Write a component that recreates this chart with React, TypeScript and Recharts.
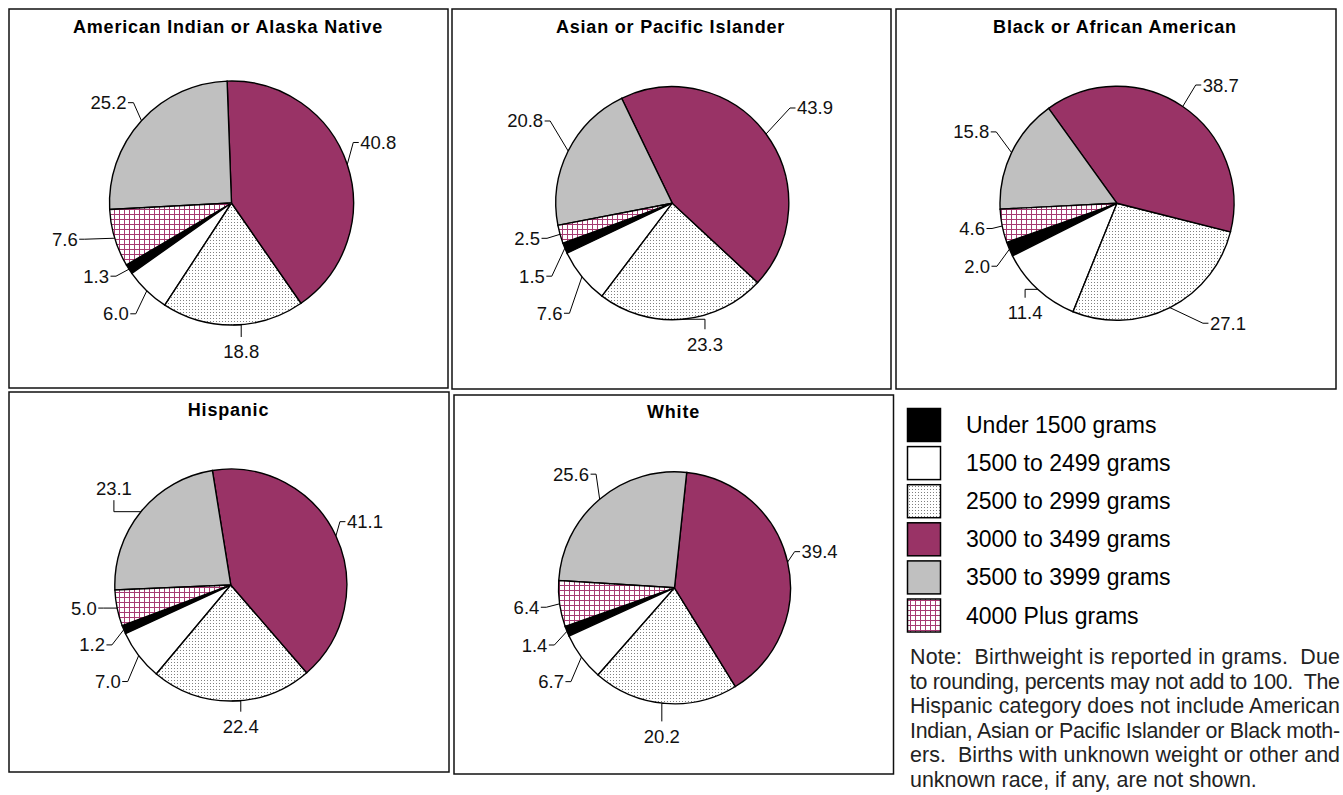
import React from 'react';
import { PieChart, Pie, Cell } from 'recharts';

// ---------- DATA ----------
const categories = [
  'Under 1500 grams',
  '1500 to 2499 grams',
  '2500 to 2999 grams',
  '3000 to 3499 grams',
  '3500 to 3999 grams',
  '4000 Plus grams',
];

const groups = [
  'American Indian or Alaska Native',
  'Asian or Pacific Islander',
  'Black or African American',
  'Hispanic',
  'White',
];

const americanIndianValues = [1.3, 6.0, 18.8, 40.8, 25.2, 7.6];
const asianValues = [1.5, 7.6, 23.3, 43.9, 20.8, 2.5];
const blackValues = [2.0, 11.4, 27.1, 38.7, 15.8, 4.6];
const hispanicValues = [1.2, 7.0, 22.4, 41.1, 23.1, 5.0];
const whiteValues = [1.4, 6.7, 20.2, 39.4, 25.6, 6.4];

const groupValues = [americanIndianValues, asianValues, blackValues, hispanicValues, whiteValues];

const noteLines = [
  'Note:  Birthweight is reported in grams.  Due',
  'to rounding, percents may not add to 100.  The',
  'Hispanic category does not include American',
  'Indian, Asian or Pacific Islander or Black moth-',
  'ers.  Births with unknown weight or other and',
  'unknown race, if any, are not shown.',
];

// ---------- STYLE / LAYOUT ----------
const FILLS = ['#000000', '#ffffff', 'url(#dotFill)', '#993366', '#c0c0c0', 'url(#gridFill)'];
const FONT = '"Liberation Sans", Arial, Helvetica, sans-serif';

type Anchor = 'start' | 'end' | 'below' | 'above';
interface PanelLayout {
  x: number; y: number; w: number; h: number;
  titleX: number; titleY: number;
  cx: number; cy: number; r: number; start: number;
  labels: [number, number, Anchor][];
}

const layouts: PanelLayout[] = [
  {
    x: 9, y: 9, w: 439, h: 379, titleX: 228, titleY: 27,
    cx: 231.5, cy: 203, r: 122, start: 210.5,
    labels: [[-20, 7, 'end'], [-18, 23, 'end'], [8, 27, 'below'], [13, -22, 'start'], [-15, -18, 'end'], [-37, 1, 'end']],
  },
  {
    x: 452, y: 9, w: 439, h: 380, titleX: 670.5, titleY: 27,
    cx: 672.3, cy: 203.2, r: 116.5, start: 200,
    labels: [[-20, 28, 'end'], [-19.5, 36.5, 'end'], [22.5, 25, 'below'], [31, -26, 'start'], [-25, -30, 'end'], [-20, 4, 'end']],
  },
  {
    x: 896, y: 9, w: 440, h: 380, titleX: 1115, titleY: 27,
    cx: 1117, cy: 203.3, r: 117, start: 199.5,
    labels: [[-19.4, 17, 'end'], [-12.6, 23.4, 'below'], [40, 15.6, 'start'], [20, -21.5, 'start'], [-22.3, -20.7, 'end'], [-17.2, 2.5, 'end']],
  },
  {
    x: 9, y: 392, w: 440, h: 380, titleX: 228.5, titleY: 409.5,
    cx: 230.8, cy: 585, r: 116, start: 200.5,
    labels: [[-18.8, 15.2, 'end'], [-18, 26, 'end'], [9, 25.7, 'below'], [11, -14.3, 'start'], [-27, -23.5, 'above'], [-20.4, 0, 'end']],
  },
  {
    x: 454, y: 395, w: 439.5, h: 379, titleX: 673.5, titleY: 412.3,
    cx: 674.5, cy: 587.8, r: 116, start: 199.5,
    labels: [[-19.6, 13.7, 'end'], [-17.5, 24.6, 'end'], [-3, 33, 'below'], [14, -10.4, 'start'], [-10.6, -25, 'end'], [-20.3, 3.4, 'end']],
  },
];

const RAD = Math.PI / 180;

const makeLabel = (values: number[], offs: [number, number, Anchor][]) => (props: any) => {
  const { cx, cy, midAngle, outerRadius, index } = props;
  const ex = cx + outerRadius * Math.cos(-midAngle * RAD);
  const ey = cy + outerRadius * Math.sin(-midAngle * RAD);
  const [dx, dy, anchor] = offs[index];
  const lx = ex + dx;
  const ly = ey + dy;
  let pts = '';
  let textAnchor: 'start' | 'end' | 'middle' = 'middle';
  if (anchor === 'end') {
    pts = `${ex},${ey} ${lx + 7},${ly} ${lx + 1.5},${ly}`;
    textAnchor = 'end';
  } else if (anchor === 'start') {
    pts = `${ex},${ey} ${lx - 7},${ly} ${lx - 1.5},${ly}`;
    textAnchor = 'start';
  } else if (anchor === 'below') {
    pts = `${ex},${ey} ${lx},${ey} ${lx},${ly - 15}`;
  } else {
    pts = `${ex},${ey} ${lx},${ey} ${lx},${ly + 12}`;
  }
  return (
    <g key={`lbl-${index}`}>
      <polyline points={pts} fill="none" stroke="#000" strokeWidth={1} />
      <text
        x={lx}
        y={ly}
        textAnchor={textAnchor}
        dominantBaseline="central"
        fontSize={18.5}
        fontFamily={FONT}
        fill="#111"
      >
        {values[index].toFixed(1)}
      </text>
    </g>
  );
};

const legendTop = 408.5;
const legendStep = 38.1;
const noteBaselines = [664, 688.6, 713.2, 737.8, 762.4, 787];

export default function App() {
  return (
    <div style={{ position: 'absolute', left: 0, top: 0, width: 1343, height: 795, background: '#fff', overflow: 'hidden' }}>
      <svg width={1343} height={795} style={{ position: 'absolute', left: 0, top: 0 }}>
        <defs>
          <pattern id="dotFill" width="3" height="3" patternUnits="userSpaceOnUse">
            <rect width="3" height="3" fill="#ffffff" />
            <rect x="0" y="0" width="1" height="1" fill="#808080" />
          </pattern>
          <pattern id="gridFill" width="5" height="5" patternUnits="userSpaceOnUse">
            <rect width="5" height="5" fill="#ffffff" />
            <rect x="0" y="0" width="5" height="1" fill="#a63a72" />
            <rect x="0" y="0" width="1" height="5" fill="#a63a72" />
          </pattern>
        </defs>
        {layouts.map((p, i) => (
          <g key={`panel-${i}`}>
            <rect x={p.x} y={p.y} width={p.w} height={p.h} fill="none" stroke="#111" strokeWidth={1.5} />
            <text
              x={p.titleX}
              y={p.titleY}
              textAnchor="middle"
              dominantBaseline="central"
              fontSize={18}
              fontWeight="bold"
              letterSpacing={0.8}
              fontFamily={FONT}
              fill="#000"
            >
              {groups[i]}
            </text>
          </g>
        ))}
        {categories.map((c, i) => (
          <g key={`leg-${i}`}>
            <rect
              x={907.5}
              y={legendTop + i * legendStep}
              width={33}
              height={33}
              fill={FILLS[i]}
              stroke="#000"
              strokeWidth={1.5}
            />
            <text
              x={966}
              y={legendTop + i * legendStep + 16.5}
              dominantBaseline="central"
              fontSize={23}
              fontFamily={FONT}
              fill="#000"
            >
              {c}
            </text>
          </g>
        ))}
        {noteLines.map((line, i) => (
          <text
            key={`note-${i}`}
            x={910}
            y={noteBaselines[i]}
            fontSize={21.4}
            fontFamily={FONT}
            fill="#222"
            style={{ whiteSpace: 'pre' }}
            {...(i < noteLines.length - 1 ? { textLength: 430, lengthAdjust: 'spacing' } : {})}
          >
            {line}
          </text>
        ))}
      </svg>
      {layouts.map((p, i) => {
        const values = groupValues[i];
        const data = categories.map((c, k) => ({ name: c, value: values[k] }));
        return (
          <div key={`chart-${i}`} style={{ position: 'absolute', left: p.x, top: p.y, width: p.w, height: p.h }}>
            <PieChart width={p.w} height={p.h} margin={{ top: 0, right: 0, bottom: 0, left: 0 }}>
              <Pie
                data={data}
                dataKey="value"
                nameKey="name"
                cx={p.cx - p.x}
                cy={p.cy - p.y}
                outerRadius={p.r}
                innerRadius={0}
                startAngle={p.start}
                endAngle={p.start + 360}
                stroke="#000"
                strokeWidth={1.4}
                isAnimationActive={false}
                labelLine={false}
                label={makeLabel(values, p.labels)}
              >
                {data.map((d, k) => (
                  <Cell key={`cell-${k}`} fill={FILLS[k]} stroke="#000" strokeWidth={1.4} />
                ))}
              </Pie>
            </PieChart>
          </div>
        );
      })}
    </div>
  );
}
